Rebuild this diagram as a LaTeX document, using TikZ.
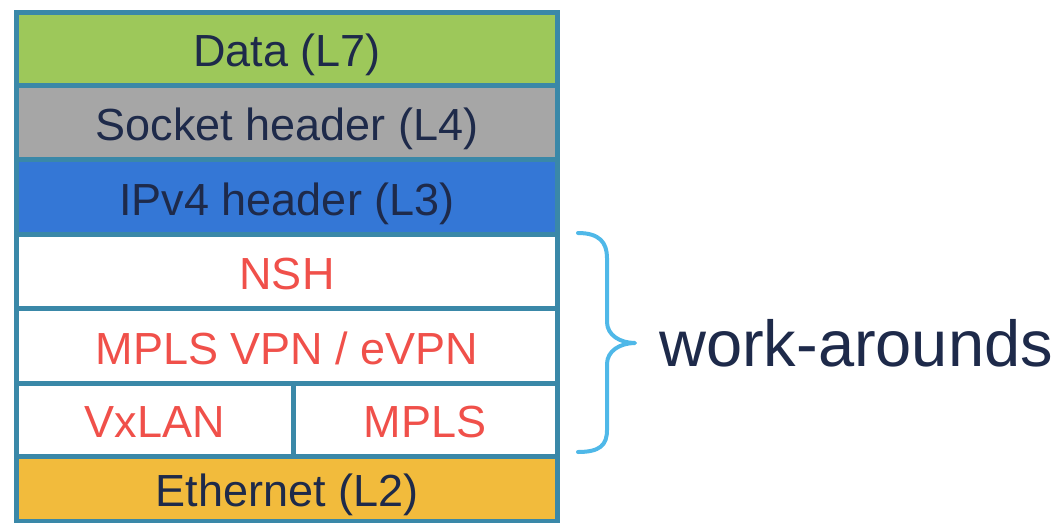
\documentclass[tikz,border=0pt]{standalone}
\usepackage{fontspec}
\setmainfont{Liberation Sans}
\definecolor{bordercol}{HTML}{3A88A8}
\definecolor{greenfill}{HTML}{9DC85A}
\definecolor{greyfill}{HTML}{A6A6A6}
\definecolor{bluefill}{HTML}{3477D6}
\definecolor{orangefill}{HTML}{F2BB3C}
\definecolor{navytext}{HTML}{1E2A4A}
\definecolor{redtext}{HTML}{F0504A}
\definecolor{bracecol}{HTML}{4FB8E8}
\tikzset{
  layer/.style={draw=bordercol, line width=5pt, rectangle, inner sep=0pt,
    text=navytext, font=\fontsize{45}{54}\selectfont,
    text height=46pt, text depth=9.5pt},
  worklayer/.style={layer, fill=white, text=redtext},
}
\begin{document}
\begin{tikzpicture}[x=1pt,y=-1pt]
\useasboundingbox (0,0) rectangle (1059,522);
\node[layer, fill=orangefill, minimum width=541pt, minimum height=65pt] (eth) at (287,488.5) {Ethernet (L2)};
\node[layer, fill=greenfill, minimum width=541pt, minimum height=73pt] (data) at (287,48.5) {Data (L7)};
\node[layer, fill=greyfill, minimum width=541pt, minimum height=74.5pt] (sock) at (287,122.25) {Socket header (L4)};
\node[layer, fill=bluefill, minimum width=541pt, minimum height=74.5pt] (ipv4) at (287,196.75) {IPv4 header (L3)};
\node[worklayer, minimum width=541pt, minimum height=74.5pt] (nsh) at (287,271.25) {NSH};
\node[worklayer, minimum width=541pt, minimum height=74.5pt] (vpn) at (287,345.75) {MPLS VPN / eVPN};
\node[worklayer, minimum width=276.5pt, minimum height=73pt] (vxlan) at (154.75,419.5) {VxLAN};
\node[worklayer, minimum width=264.5pt, minimum height=73pt] (mpls) at (425.25,419.5) {MPLS};
\draw[bracecol, line width=4pt, line cap=round, line join=round]
  (578,233) .. controls (600,233) and (607,243) .. (607,258) -- (607,322)
  .. controls (607,335) and (620,343) .. (635,343)
  .. controls (620,343) and (607,351) .. (607,364) -- (607,430)
  .. controls (607,445) and (600,452) .. (578,452);
\coordinate (tip) at (635,343);
\node[anchor=west, text=navytext, font=\fontsize{65}{78}\selectfont, inner sep=0pt] (wa) at ([xshift=24pt]tip) {work-arounds};
\end{tikzpicture}
\end{document}
